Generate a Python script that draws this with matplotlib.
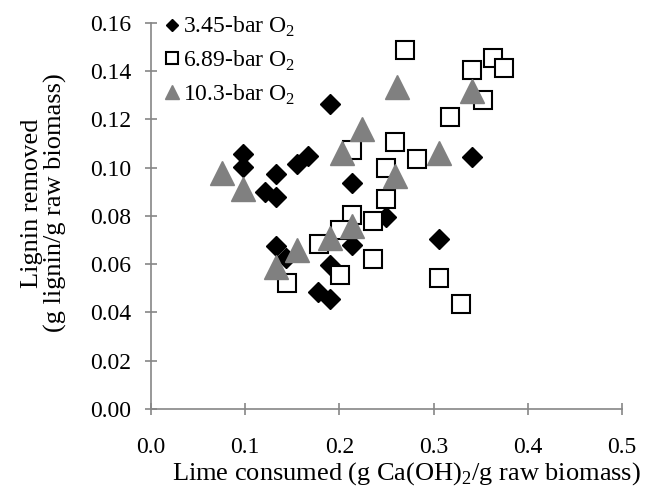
"""
Lignin removed vs lime consumed for three O2 pressures.
"""

import matplotlib
matplotlib.use('Agg')
import matplotlib.pyplot as plt

plt.rcParams['font.family'] = ['Liberation Serif', 'DejaVu Serif']
plt.rcParams['mathtext.fontset'] = 'custom'
plt.rcParams['mathtext.rm'] = 'Liberation Serif'

# 3.45-bar O2
lime_345 = [0.098, 0.098, 0.121, 0.133, 0.133, 0.155, 0.167, 0.190, 0.213,
            0.249, 0.306, 0.341, 0.133, 0.143, 0.213, 0.190, 0.177, 0.190]
lignin_345 = [0.1055, 0.1005, 0.0900, 0.0880, 0.0975, 0.1015, 0.1050, 0.1265, 0.0935,
              0.0795, 0.0705, 0.1045, 0.0675, 0.0625, 0.0680, 0.0595, 0.0485, 0.0455]

# 6.89-bar O2
lime_689 = [0.270, 0.363, 0.375, 0.341, 0.352, 0.317, 0.259, 0.282, 0.249, 0.213,
            0.249, 0.213, 0.236, 0.178, 0.201, 0.201, 0.236, 0.144, 0.306, 0.329]
lignin_689 = [0.1490, 0.1455, 0.1415, 0.1405, 0.1280, 0.1210, 0.1105, 0.1035, 0.1000, 0.1075,
              0.0870, 0.0805, 0.0780, 0.0684, 0.0740, 0.0556, 0.0622, 0.0522, 0.0543, 0.0435]

# 10.3-bar O2
lime_103 = [0.075, 0.098, 0.261, 0.224, 0.203, 0.259, 0.341, 0.306, 0.155, 0.133, 0.190, 0.213]
lignin_103 = [0.0980, 0.0910, 0.1335, 0.1160, 0.1060, 0.0965, 0.1320, 0.1060,
              0.0660, 0.0590, 0.0710, 0.0760]

x_ticks = [0.0, 0.1, 0.2, 0.3, 0.4, 0.5]
y_ticks = [0.00, 0.02, 0.04, 0.06, 0.08, 0.10, 0.12, 0.14, 0.16]

fig = plt.figure(figsize=(6.47, 4.87), dpi=100)
ax = fig.add_axes([0.2334, 0.1602, 0.728, 0.7926])

ax.plot(lime_345, lignin_345, 'D', ls='none', ms=10.5, color='black',
        label='3.45-bar O$_\\mathregular{2}$', clip_on=False)
ax.plot(lime_689, lignin_689, 's', ls='none', ms=13.5, mfc='white', mec='black', mew=1.5,
        label='6.89-bar O$_\\mathregular{2}$', clip_on=False)
ax.plot(lime_103, lignin_103, '^', ls='none', ms=17, color='#808080',
        label='10.3-bar O$_\\mathregular{2}$', clip_on=False)

ax.set_xlim(0, 0.5)
ax.set_ylim(0, 0.16)
ax.set_xticks(x_ticks)
ax.set_xticklabels([f'{v:.1f}' for v in x_ticks])
ax.set_yticks(y_ticks)
ax.set_yticklabels([f'{v:.2f}' for v in y_ticks])

for s in ['top', 'right']:
    ax.spines[s].set_visible(False)
for s in ['left', 'bottom']:
    ax.spines[s].set_color('#868686')
    ax.spines[s].set_linewidth(1.2)

ax.tick_params(axis='both', direction='inout', length=8, width=1.2, color='#868686',
               labelsize=17)
ax.tick_params(axis='x', pad=16)
ax.tick_params(axis='y', pad=10)

ax.set_xlabel('Lime consumed (g Ca(OH)$_\\mathregular{2}$/g raw biomass)', fontsize=19)
ax.xaxis.set_label_coords(0.5425, -0.133)
ax.set_ylabel('Lignin removed\n(g lignin/g raw biomass)', fontsize=19, linespacing=1.05)
ax.yaxis.set_label_coords(-0.178, 0.534)

ax.legend(loc='upper left', bbox_to_anchor=(0.01, 1.045), frameon=False, fontsize=17,
          markerscale=0.62, handlelength=0.6, handletextpad=0.15, labelspacing=0.4,
          borderaxespad=0)

plt.savefig('out.png', dpi=100)
plt.close()
